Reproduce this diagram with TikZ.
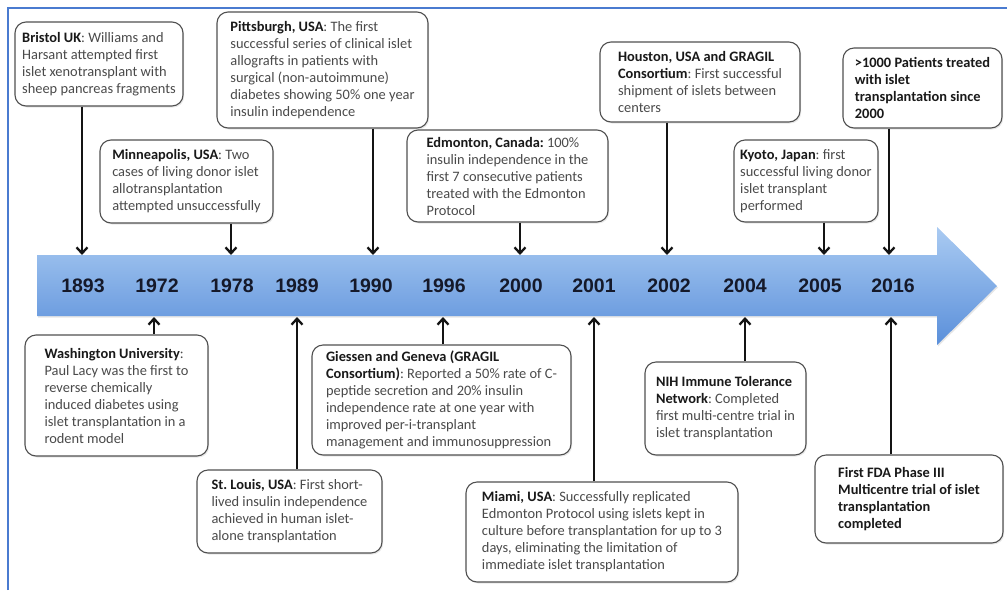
\documentclass[tikz,border=0pt]{standalone}
\usepackage{fontspec}
\setmainfont{Carlito}
\newfontfamily\yearfont{Liberation Sans}
\usetikzlibrary{arrows.meta,shadows}
\frenchspacing
\definecolor{frameblue}{HTML}{4A7BD0}
\definecolor{arrowtop}{HTML}{AACBF2}
\definecolor{arrowbot}{HTML}{5A8FDA}
\definecolor{boxline}{HTML}{505050}
\definecolor{txt}{HTML}{4A4A4A}
\definecolor{yeartxt}{HTML}{15192A}
\tikzset{
  box/.style={draw=boxline, line width=1.1pt, rounded corners=11pt, fill=white,
    align=left, inner sep=0pt, text=txt,
    font=\fontsize{14.4}{17}\selectfont\frenchspacing,
    drop shadow={opacity=0.18, shadow xshift=1.2pt, shadow yshift=-1.5pt}},
  year/.style={font=\yearfont\bfseries\fontsize{19.5}{21}\selectfont, text=yeartxt, inner sep=0pt},
  conn/.style={draw=black!92, line width=2.3pt, -{Straight Barb[length=6pt,width=11pt,line width=2.3pt]}},
}
\newcommand\bh[1]{{\bfseries\color{black!90}#1}}
\begin{document}
\begin{tikzpicture}[x=1pt,y=-1pt]
\useasboundingbox (0,0) rectangle (1007,590);
% frame
\draw[frameblue, line width=1.6pt] (8,590) -- (8,8) -- (1007,8);
% big arrow
\shade[top color=arrowtop, bottom color=arrowbot, drop shadow={opacity=0.2, shadow xshift=1pt, shadow yshift=-1.5pt}]
  (37,255) -- (937,255) -- (937,227) -- (997,286) -- (937,345) -- (937,316) -- (37,316) -- cycle;
% years
\node[year] (y1893) at (83,286) {1893};
\node[year] (y1972) at (157,286) {1972};
\node[year] (y1978) at (232,286) {1978};
\node[year] (y1989) at (297,286) {1989};
\node[year] (y1990) at (371,286) {1990};
\node[year] (y1996) at (444,286) {1996};
\node[year] (y2000) at (521,286) {2000};
\node[year] (y2001) at (594,286) {2001};
\node[year] (y2002) at (669,286) {2002};
\node[year] (y2004) at (745,286) {2004};
\node[year] (y2005) at (820,286) {2005};
\node[year] (y2016) at (893,286) {2016};
% arrow edge coordinates
\coordinate (t1893) at (82,255);
\coordinate (t1978) at (231,255);
\coordinate (t1990) at (373,255);
\coordinate (t2000) at (520,255);
\coordinate (t2002) at (667,255);
\coordinate (t2005) at (824,255);
\coordinate (t2016) at (889,255);
\coordinate (b1972) at (154,317);
\coordinate (b1989) at (297,317);
\coordinate (b1996) at (443,317);
\coordinate (b2001) at (594,317);
\coordinate (b2004) at (745,317);
\coordinate (b2016) at (891,317);
% top boxes
\node[box, minimum width=168pt, minimum height=84pt] (bristol) at (99,64)
 {\bh{Bristol UK}: Williams and\\Harsant attempted first\\islet xenotransplant with\\sheep pancreas fragments};
\node[box, minimum width=173pt, minimum height=83pt] (minn) at (186.5,181.5)
 {\bh{Minneapolis, USA}: Two\\cases of living donor islet\\allotransplantation\\attempted unsuccessfully};
\node[box, minimum width=211pt, minimum height=116pt] (pitt) at (322.5,70)
 {\bh{Pittsburgh, USA}: The first\\successful series of clinical islet\\allografts in patients with\\surgical (non-autoimmune)\\diabetes showing 50\% one year\\insulin independence};
\node[box, minimum width=201pt, minimum height=92pt] (edm) at (507.5,176)
 {\bh{Edmonton, Canada:} 100\%\\insulin independence in the\\first 7 consecutive patients\\treated with the Edmonton\\Protocol};
\node[box, minimum width=200pt, minimum height=80pt] (hou) at (700,82)
 {\bh{Houston, USA and GRAGIL}\\\bh{Consortium}: First successful\\shipment of islets between\\centers};
\node[box, minimum width=144pt, minimum height=82pt] (kyoto) at (806,181)
 {\bh{Kyoto, Japan}: first\\successful living donor\\islet transplant\\performed};
\node[box, minimum width=159pt, minimum height=80pt] (thou) at (922.5,88)
 {\bh{>1000 Patients treated}\\\bh{with islet}\\\bh{transplantation since}\\\bh{2000}};
% bottom boxes
\node[box, minimum width=183pt, minimum height=121pt] (wash) at (116.5,395.5)
 {\bh{Washington University}:\\Paul Lacy was the first to\\reverse chemically\\induced diabetes using\\islet transplantation in a\\rodent model};
\node[box, minimum width=185pt, minimum height=83pt] (stl) at (289.5,511.5)
 {\bh{St. Louis, USA}: First short-\\lived insulin independence\\achieved in human islet-\\alone transplantation};
\node[box, minimum width=259pt, minimum height=110pt] (gie) at (441.5,400)
 {\bh{Giessen and Geneva (GRAGIL}\\\bh{Consortium)}: Reported a 50\% rate of C-\\peptide secretion and 20\% insulin\\independence rate at one year with\\improved per-i-transplant\\management and immunosuppression};
\node[box, minimum width=272pt, minimum height=100pt] (miami) at (602,532)
 {\bh{Miami, USA}: Successfully replicated\\Edmonton Protocol using islets kept in\\culture before transplantation for up to 3\\days, eliminating the limitation of\\immediate islet transplantation};
\node[box, minimum width=161pt, minimum height=93pt] (nih) at (725.5,408.5)
 {\bh{NIH Immune Tolerance}\\\bh{Network}: Completed\\first multi-centre trial in\\islet transplantation};
\node[box, minimum width=188pt, minimum height=88pt] (fda) at (909,499)
 {\bh{First FDA Phase III}\\\bh{Multicentre trial of islet}\\\bh{transplantation}\\\bh{completed}};
% connectors
\draw[conn] (bristol.south -| t1893) -- (t1893);
\draw[conn] (minn.south -| t1978) -- (t1978);
\draw[conn] (pitt.south -| t1990) -- (t1990);
\draw[conn] (edm.south -| t2000) -- (t2000);
\draw[conn] (hou.south -| t2002) -- (t2002);
\draw[conn] (kyoto.south -| t2005) -- (t2005);
\draw[conn] (thou.south -| t2016) -- (t2016);
\draw[conn] (wash.north -| b1972) -- (b1972);
\draw[conn] (stl.north -| b1989) -- (b1989);
\draw[conn] (gie.north -| b1996) -- (b1996);
\draw[conn] (miami.north -| b2001) -- (b2001);
\draw[conn] (nih.north -| b2004) -- (b2004);
\draw[conn] (fda.north -| b2016) -- (b2016);
\end{tikzpicture}
\end{document}
